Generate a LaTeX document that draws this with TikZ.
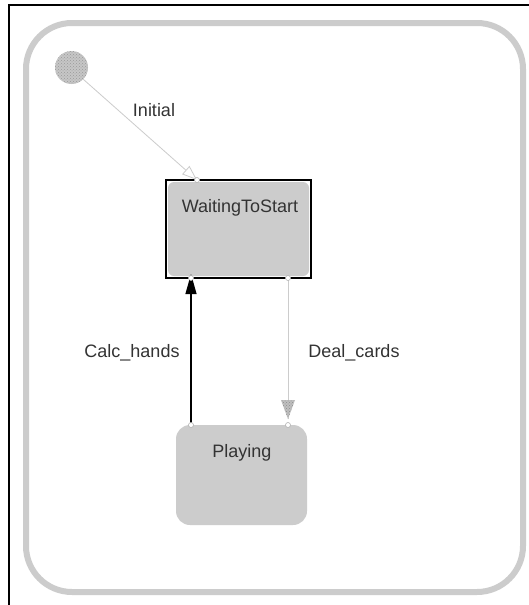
\documentclass[tikz,border=0pt]{standalone}
\usepackage{fontspec}
\setmainfont{Liberation Sans}
\usetikzlibrary{arrows.meta,patterns}
\definecolor{lg}{HTML}{CCCCCC}
\definecolor{tx}{HTML}{333333}
\begin{document}
\begin{tikzpicture}[x=1pt,y=-1pt,
  lbl/.style={font=\fontsize{18}{20}\selectfont,text=tx,inner sep=0pt},
  statebox/.style={fill=lg,rounded corners=14pt,inner sep=0pt},
  port/.style={circle,draw=gray!60,fill=white,minimum size=5pt,inner sep=0pt,line width=0.6pt}]
\useasboundingbox (0,0) rectangle (529,605);
\fill[white] (0,0) rectangle (529,605);
% outer frame
\draw[line width=2pt] (9,606) -- (9,5) -- (530,5);
% container
\draw[lg,line width=6pt,rounded corners=46pt] (26,23) rectangle (523,592);
% initial state
\node[circle,fill=gray!45,minimum size=33pt,inner sep=0pt] (init) at (71.5,67.5) {};
\fill[pattern=crosshatch dots,pattern color=gray!80] (init.center) circle (16.5pt);
% WaitingToStart
\node[draw,line width=2pt,minimum width=145pt,minimum height=98pt,inner sep=0pt] (wts) at (238.5,229) {};
\fill[lg,rounded corners=6pt] (168,182) rectangle (309,276);
\node[lbl] (wtstxt) at (240,208) {WaitingToStart};
% Playing
\node[statebox,minimum width=131pt,minimum height=100pt] (play) at (241.5,475) {};
\node[lbl] (playtxt) at (242,453) {Playing};
% ports
\coordinate (pinit) at (197,180);
\coordinate (pwtsl) at (191,278);
\coordinate (pwtsr) at (288,278);
\coordinate (pplayl) at (191,425);
\coordinate (pplayr) at (288,425);
\coordinate (dtip) at (288,419);
% Initial transition
\draw[lg,line width=0.8pt,-{Triangle[open,length=15pt,width=11pt,fill=white]}] (init.-45) -- (pinit);
\node[lbl] (linit) at (154,110) {Initial};
% Calc_hands
\draw[black,line width=1.2pt,-{Triangle[length=20pt,width=11pt]}] (pplayl) -- ([yshift=4pt]pwtsl);
\node[lbl] (lcalc) at (132,353) {Calc\_hands};
% Deal_cards
\draw[lg,line width=1pt] (pwtsr) -- (dtip);
\fill[gray!50] (281,400) -- (295,400) -- (dtip) -- cycle;
\fill[pattern=crosshatch dots,pattern color=gray!90] (281,400) -- (295,400) -- (dtip) -- cycle;
\node[lbl] (ldeal) at (354,353) {Deal\_cards};
% port markers
\foreach \p in {pinit,pwtsl,pwtsr,pplayl,pplayr}
  \node[port] at (\p) {};
\end{tikzpicture}
\end{document}
